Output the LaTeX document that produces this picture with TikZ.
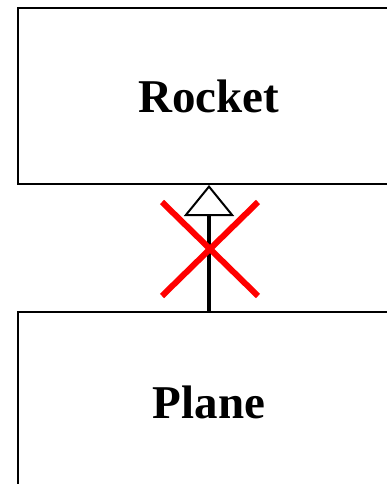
\documentclass[tikz,border=0pt]{standalone}
\usepackage{fontspec}
\setmainfont{Liberation Serif}
\usetikzlibrary{arrows.meta}
\begin{document}
\begin{tikzpicture}[x=1pt,y=-1pt,
  classbox/.style={draw=black,line width=2pt,fill=white,rectangle,inner sep=0pt,
    font=\fontsize{47}{50}\selectfont\bfseries},
  inherit/.style={draw=black,line width=4pt,
    -{Triangle[open,fill=white,line width=2pt,width=50pt,length=31pt]}},
  cross/.style={draw=red,line width=6pt}]
\useasboundingbox (0,0) rectangle (387,484);
\node[classbox,minimum width=382pt,minimum height=176pt] (rocket) at (209,96) {Rocket};
\node[classbox,minimum width=382pt,minimum height=180pt] (plane) at (209,402) {Plane};
\draw[inherit] (plane.north) -- (rocket.south);
\coordinate (x1) at (162,202);
\coordinate (x2) at (258,296);
\coordinate (x3) at (258,202);
\coordinate (x4) at (162,296);
\draw[cross] (x1) -- (x2);
\draw[cross] (x3) -- (x4);
\end{tikzpicture}
\end{document}
